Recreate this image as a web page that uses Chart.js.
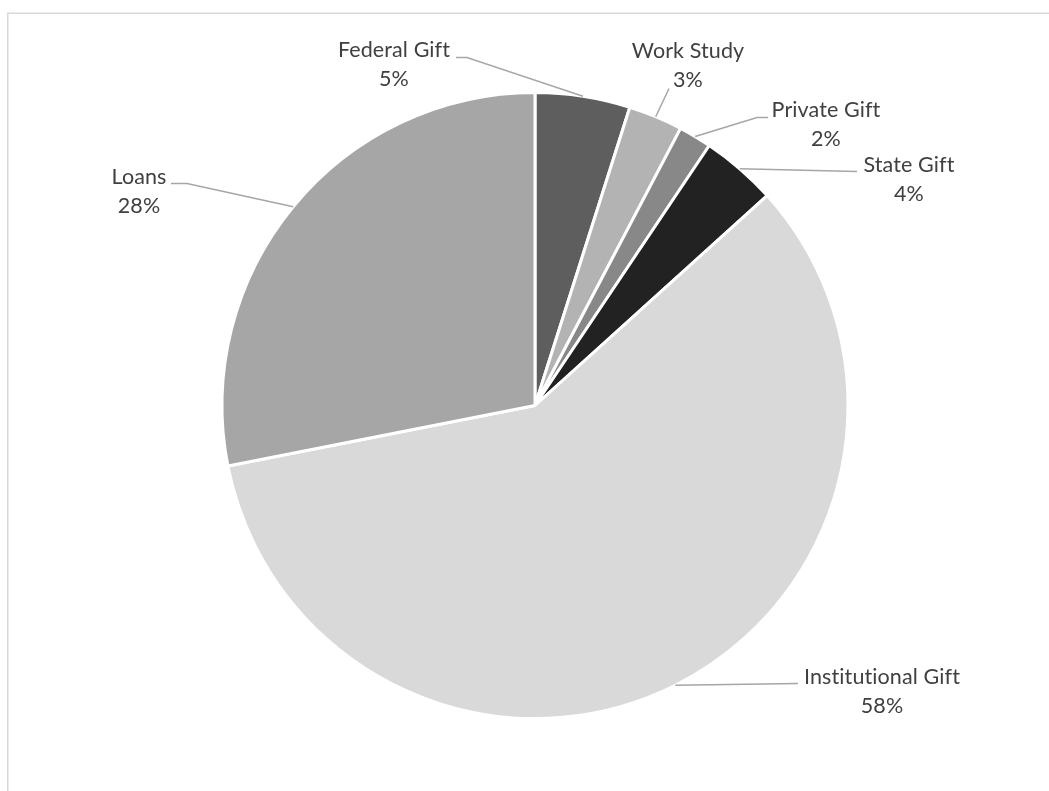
<!DOCTYPE html>
<html>
<head>
<meta charset="utf-8">
<script src="https://cdn.jsdelivr.net/npm/chart.js@4"></script>
<style>
  html, body { margin: 0; padding: 0; background: #ffffff; overflow: hidden; }
  #wrap { position: absolute; left: 0; top: 0; width: 1049px; height: 791px; }
</style>
</head>
<body>
<div id="wrap"><canvas id="c" width="1049" height="791"></canvas></div>
<script>
// ---- data ----
const categories = ["Federal Gift", "Work Study", "Private Gift", "State Gift", "Institutional Gift", "Loans"];
const shares = [4.9, 2.8, 1.7, 3.9, 58.6, 28.1];
const percentLabels = ["5%", "3%", "2%", "4%", "58%", "28%"];
const sliceColors = ["#5e5e5e", "#b3b3b3", "#888888", "#222222", "#d9d9d9", "#a6a6a6"];

// ---- label layout (offsets from the pie centre, pixels) ----
const labelCentres = [[-141, -341], [153, -340], [291, -281], [374, -226], [347, 286], [-396, -214]];
const leaderElbows = [
  [[-68, -348], [-79, -348]],
  [[134, -317]],
  [[222, -288], [233, -288]],
  [[322, -234]],
  [[263, 278]],
  [[-348, -222], [-364, -222]]
];

const labelPlugin = {
  id: 'excelLabels',
  beforeDraw(chart) {
    const ctx = chart.ctx;
    ctx.save();
    ctx.strokeStyle = '#d9d9d9';
    ctx.lineWidth = 1.5;
    ctx.beginPath();
    ctx.moveTo(7.75, 800);
    ctx.lineTo(7.75, 13.25);
    ctx.lineTo(1060, 13.25);
    ctx.stroke();
    ctx.restore();
  },
  afterDatasetsDraw(chart) {
    const ctx = chart.ctx;
    const meta = chart.getDatasetMeta(0);
    ctx.save();
    meta.data.forEach((arc, i) => {
      const p = arc.getProps(['x', 'y', 'startAngle', 'endAngle', 'outerRadius'], true);
      const mid = (p.startAngle + p.endAngle) / 2;
      const ax = p.x + p.outerRadius * Math.cos(mid);
      const ay = p.y + p.outerRadius * Math.sin(mid);
      ctx.strokeStyle = '#a6a6a6';
      ctx.lineWidth = 1.5;
      ctx.beginPath();
      ctx.moveTo(ax, ay);
      leaderElbows[i].forEach(e => ctx.lineTo(p.x + e[0], p.y + e[1]));
      ctx.stroke();
      const cx = p.x + labelCentres[i][0];
      const cy = p.y + labelCentres[i][1];
      ctx.fillStyle = '#404040';
      ctx.font = '21.5px Lato, "Open Sans", sans-serif';
      if ('letterSpacing' in ctx) ctx.letterSpacing = '0.1px';
      ctx.textAlign = 'center';
      ctx.textBaseline = 'middle';
      ctx.fillText(categories[i], cx, cy - 14.5);
      ctx.fillText(percentLabels[i], cx, cy + 15);
    });
    ctx.restore();
  }
};

new Chart(document.getElementById('c'), {
  type: 'pie',
  data: {
    labels: categories,
    datasets: [{
      data: shares,
      backgroundColor: sliceColors,
      borderColor: '#ffffff',
      borderWidth: 3,
      hoverOffset: 0,
      offset: 0,
      radius: 313
    }]
  },
  options: {
    responsive: false,
    animation: false,
    devicePixelRatio: 1,
    layout: { padding: { left: 222, right: 201, top: 93, bottom: 73 } },
    plugins: {
      legend: { display: false },
      tooltip: { enabled: false },
      title: { display: false }
    }
  },
  plugins: [labelPlugin]
});
</script>
</body>
</html>
